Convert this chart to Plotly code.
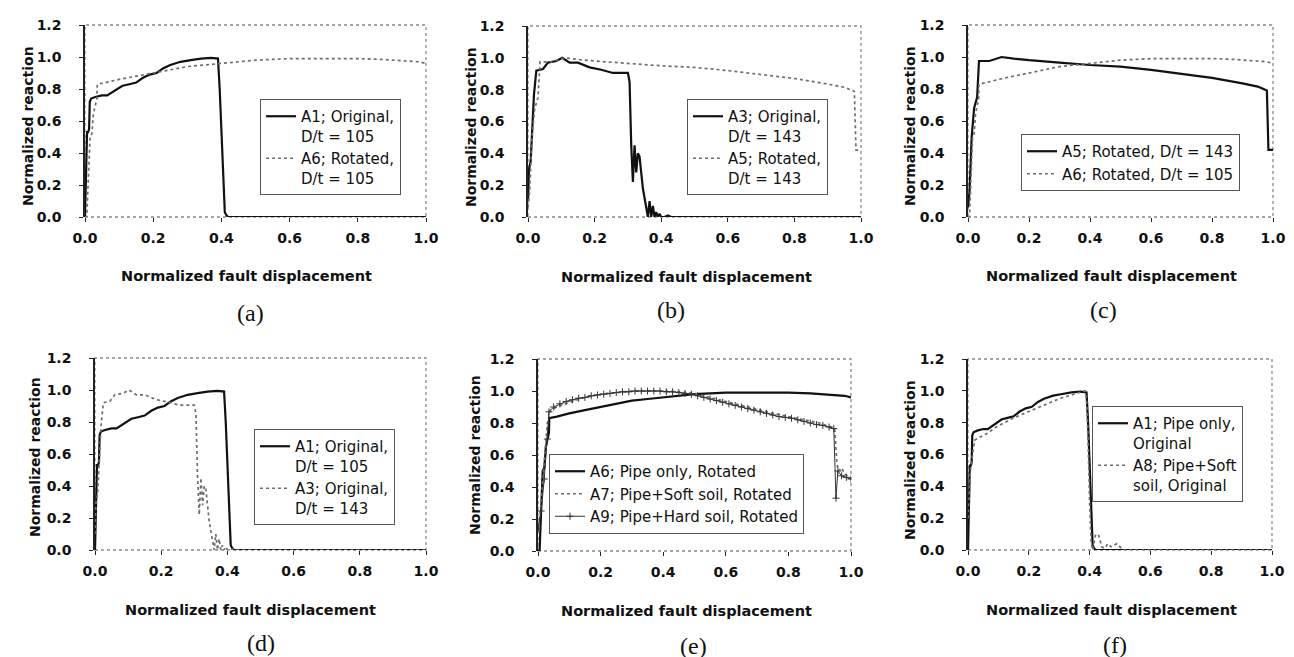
import plotly.graph_objects as go

# ---------------- data ----------------
A1_x = [0, 0.002, 0.004, 0.006, 0.009, 0.012, 0.014, 0.018, 0.03, 0.05, 0.065, 0.08, 0.095,
        0.11, 0.13, 0.15, 0.17, 0.19, 0.21, 0.23, 0.25, 0.28, 0.31, 0.34, 0.37, 0.39,
        0.395, 0.40, 0.405, 0.41, 0.415, 0.42, 0.5, 0.7, 1.0]
A1_y = [0.0, 0.25, 0.25, 0.53, 0.53, 0.55, 0.72, 0.74, 0.75, 0.76, 0.76, 0.78, 0.80,
        0.82, 0.83, 0.84, 0.87, 0.89, 0.90, 0.93, 0.95, 0.97, 0.98, 0.99, 0.995, 0.99,
        0.80, 0.55, 0.25, 0.03, 0.01, 0.0, 0.0, 0.0, 0.0]

A3_x = [0, 0.003, 0.008, 0.013, 0.018, 0.025, 0.045, 0.06, 0.085, 0.103, 0.125,
        0.15, 0.185, 0.22, 0.255, 0.30, 0.305, 0.31, 0.315, 0.32, 0.325,
        0.33, 0.335, 0.345, 0.355, 0.36, 0.365, 0.37, 0.375, 0.38, 0.385,
        0.39, 0.395, 0.40, 0.41, 0.42, 0.43, 0.5, 1.0]
A3_y = [0.1, 0.3, 0.35, 0.55, 0.77, 0.92, 0.93, 0.97, 0.98, 1.0, 0.97,
        0.97, 0.94, 0.925, 0.905, 0.905, 0.85, 0.45, 0.22, 0.45, 0.28,
        0.40, 0.38, 0.18, 0.06, 0.0, 0.1, 0.0, 0.07, 0.0, 0.03,
        0.0, 0.02, 0.0, 0.0, 0.01, 0.0, 0.0, 0.0]

A5_x = [0, 0.005, 0.012, 0.02, 0.03, 0.036, 0.07, 0.11, 0.15, 0.2, 0.3, 0.4, 0.5,
        0.6, 0.7, 0.8, 0.9, 0.95, 0.98, 0.985, 1.0]
A5_y = [0.06, 0.16, 0.5, 0.68, 0.75, 0.975, 0.975, 1.0, 0.99, 0.98, 0.965, 0.95, 0.94,
        0.92, 0.895, 0.87, 0.835, 0.815, 0.79, 0.42, 0.42]

A6_x = [0, 0.005, 0.01, 0.015, 0.02, 0.025, 0.035, 0.036, 0.06, 0.1, 0.15, 0.2, 0.25,
        0.3, 0.35, 0.4, 0.45, 0.5, 0.55, 0.6, 0.7, 0.8, 0.87, 0.9, 0.95, 0.98, 1.0]
A6_y = [0.0, 0.0, 0.25, 0.5, 0.52, 0.65, 0.74, 0.83, 0.84, 0.86, 0.88, 0.90, 0.92,
        0.94, 0.95, 0.96, 0.97, 0.98, 0.985, 0.99, 0.99, 0.99, 0.985, 0.98, 0.975, 0.97, 0.96]

A7_x = [0, 0.01, 0.02, 0.03, 0.04, 0.06, 0.1, 0.15, 0.2, 0.25, 0.3, 0.35, 0.4, 0.45,
        0.5, 0.55, 0.6, 0.65, 0.7, 0.75, 0.8, 0.85, 0.9, 0.94, 0.948, 0.955, 0.96,
        0.97, 0.98, 0.99, 1.0]
A7_y = [0.12, 0.3, 0.55, 0.8, 0.88, 0.9, 0.93, 0.96, 0.98, 0.99, 1.0, 1.0, 1.0, 0.995,
        0.985, 0.96, 0.935, 0.91, 0.885, 0.86, 0.84, 0.82, 0.80, 0.77, 0.76, 0.55, 0.5,
        0.52, 0.48, 0.47, 0.46]

A9_x = [0.0, 0.01, 0.02, 0.03, 0.035,
        0.05, 0.07, 0.09, 0.11, 0.13, 0.15, 0.17, 0.19, 0.21, 0.23,
        0.25, 0.27, 0.29, 0.31, 0.33, 0.35, 0.37, 0.39, 0.41, 0.43,
        0.45, 0.47, 0.49, 0.51, 0.53, 0.55, 0.57, 0.59, 0.61, 0.63,
        0.65, 0.67, 0.69, 0.71, 0.73, 0.75, 0.77, 0.79, 0.81, 0.83,
        0.85, 0.87, 0.89, 0.91, 0.93,
        0.945, 0.952, 0.958, 0.97, 0.985, 1.0]
A9_y = [0.14, 0.25, 0.45, 0.7, 0.87,
        0.9, 0.92, 0.935, 0.945, 0.955, 0.96, 0.97, 0.975, 0.98, 0.985,
        0.99, 0.995, 0.995, 1.0, 1.0, 1.0, 1.0, 1.0, 0.995, 0.995,
        0.99, 0.985, 0.98, 0.97, 0.96, 0.95, 0.94, 0.93, 0.92, 0.91,
        0.9, 0.89, 0.88, 0.87, 0.86, 0.85, 0.84, 0.835, 0.83, 0.82,
        0.81, 0.80, 0.79, 0.785, 0.775,
        0.765, 0.33, 0.5, 0.47, 0.46, 0.45]

A8_x = [0, 0.004, 0.008, 0.015, 0.022, 0.04, 0.066, 0.09, 0.11, 0.15, 0.2, 0.25, 0.3,
        0.35, 0.385, 0.39, 0.395, 0.40, 0.405, 0.41, 0.415, 0.42, 0.43, 0.44, 0.45,
        0.46, 0.47, 0.48, 0.49, 0.50, 0.51, 0.52, 0.6, 1.0]
A8_y = [0.2, 0.4, 0.5, 0.6, 0.69, 0.71, 0.735, 0.77, 0.79, 0.83, 0.87, 0.91, 0.95,
        0.98, 1.0, 0.95, 0.7, 0.3, 0.05, 0.0, 0.06, 0.1, 0.09, 0.02, 0.01,
        0.04, 0.02, 0.03, 0.04, 0.02, 0.0, 0.0, 0.0, 0.0]

x_ticks = [0.0, 0.2, 0.4, 0.6, 0.8, 1.0]
y_ticks = [0.0, 0.2, 0.4, 0.6, 0.8, 1.0, 1.2]
x_title = "Normalized fault displacement"
y_title = "Normalized reaction"
captions = ["(a)", "(b)", "(c)", "(d)", "(e)", "(f)"]

# ---------------- styles / layout ----------------
W, H = 1294, 657
SOLID = dict(mode="lines", line=dict(color="#111111", width=2.2))
DOTTED = dict(mode="lines", line=dict(color="#6e6e6e", width=1.7, dash="dot"))
CROSS = dict(mode="lines+markers", line=dict(color="#333333", width=1),
             marker=dict(symbol="cross-thin-open", size=5, line=dict(color="#333333", width=1)))

panels = [
    [(A1_x, A1_y, "A1; Original,<br>D/t = 105", SOLID),
     (A6_x, A6_y, "A6; Rotated,<br>D/t = 105", DOTTED)],
    [(A3_x, A3_y, "A3; Original,<br>D/t = 143", SOLID),
     (A5_x, A5_y, "A5; Rotated,<br>D/t = 143", DOTTED)],
    [(A5_x, A5_y, "A5; Rotated, D/t = 143", SOLID),
     (A6_x, A6_y, "A6; Rotated, D/t = 105", DOTTED)],
    [(A1_x, A1_y, "A1; Original,<br>D/t = 105", SOLID),
     (A3_x, A3_y, "A3; Original,<br>D/t = 143", DOTTED)],
    [(A6_x, A6_y, "A6; Pipe only, Rotated", SOLID),
     (A7_x, A7_y, "A7; Pipe+Soft soil, Rotated", DOTTED),
     (A9_x, A9_y, "A9; Pipe+Hard soil, Rotated", CROSS)],
    [(A1_x, A1_y, "A1; Pipe only,<br>Original", SOLID),
     (A8_x, A8_y, "A8; Pipe+Soft<br>soil, Original", DOTTED)],
]

# plot areas in pixels: (left, right, top, bottom)
boxes = [(77, 418, 17, 209), (520, 853, 18, 209), (960, 1265, 17, 209),
         (87, 418, 350, 542), (530, 843, 351, 543), (960, 1264, 351, 542)]
legend_pos = [(252, 91), (679, 91), (1013, 126), (246, 421), (541, 446), (1084, 398)]
xtitle_pos = [(238, 268), (678, 269), (1103, 268), (243, 602), (678, 603), (1103, 602)]
ytitle_pos = [(20, 118), (463, 119), (902, 118), (27, 449), (467, 447), (902, 452)]
caption_pos = [(242, 305), (663, 302), (1095, 302), (253, 635), (685, 638), (1107, 637)]

def px(x):
    return x / W

def py(y):
    return 1 - y / H

TICKFONT = dict(family="DejaVu Sans", size=14, color="#111111", weight="bold")

fig = go.Figure()
layout = dict(width=W, height=H, margin=dict(l=0, r=0, t=0, b=0, autoexpand=False),
              paper_bgcolor="white", plot_bgcolor="white",
              font=dict(family="DejaVu Sans", color="#111111"),
              showlegend=True)
annotations = []
shapes = []

for i, series in enumerate(panels):
    n = "" if i == 0 else str(i + 1)
    xa, ya = "x" + n, "y" + n
    lg = "legend" + n
    for (xs, ys, name, style) in series:
        fig.add_trace(go.Scatter(x=xs, y=ys, name=name, xaxis=xa, yaxis=ya,
                                 legend=lg, showlegend=True, **style))
    l, r, t, b = boxes[i]
    layout["xaxis" + n] = dict(domain=[px(l), px(r)], anchor=ya, range=[0, 1.0],
                               tickvals=x_ticks, tickformat=".1f", ticks="outside",
                               ticklen=4, tickcolor="#222222", tickwidth=1,
                               ticklabelstandoff=4, tickfont=TICKFONT,
                               automargin=False,
                               showline=False, showgrid=False, zeroline=False,
                               fixedrange=True)
    layout["yaxis" + n] = dict(domain=[py(b), py(t)], anchor=xa, range=[0, 1.2],
                               tickvals=y_ticks, tickformat=".1f", ticks="outside",
                               ticklen=4, tickcolor="#222222", tickwidth=1,
                               ticklabelstandoff=15, tickfont=TICKFONT,
                               automargin=False,
                               showline=True, linecolor="#222222", linewidth=1.5,
                               showgrid=False, zeroline=False, fixedrange=True)
    lx, ly = legend_pos[i]
    layout[lg] = dict(x=px(lx), y=py(ly), xanchor="left", yanchor="top",
                      xref="paper", yref="paper",
                      bgcolor="white", bordercolor="#555555", borderwidth=1,
                      font=dict(family="DejaVu Sans", size=15, color="#111111"),
                      itemwidth=30, valign="top", tracegroupgap=4)
    # dotted frame
    shapes.append(dict(type="rect", xref=xa + " domain", yref=ya + " domain",
                       x0=0, x1=1, y0=0, y1=1, layer="below",
                       line=dict(color="#8a8a8a", width=1.3, dash="dot")))
    tx, ty = xtitle_pos[i]
    annotations.append(dict(text=x_title, x=px(tx), y=py(ty), xref="paper", yref="paper",
                            showarrow=False, xanchor="center", yanchor="middle",
                            font=dict(family="DejaVu Sans", size=14.5, color="#111111",
                                      weight="bold")))
    tx, ty = ytitle_pos[i]
    annotations.append(dict(text=y_title, x=px(tx), y=py(ty), xref="paper", yref="paper",
                            showarrow=False, xanchor="center", yanchor="middle",
                            textangle=-90,
                            font=dict(family="DejaVu Sans", size=14, color="#111111",
                                      weight="bold")))
    tx, ty = caption_pos[i]
    annotations.append(dict(text=captions[i], x=px(tx), y=py(ty), xref="paper",
                            yref="paper", showarrow=False, xanchor="center",
                            yanchor="middle",
                            font=dict(family="Liberation Serif", size=24,
                                      color="#111111")))

layout["annotations"] = annotations
layout["shapes"] = shapes
fig.update_layout(**layout)
fig.write_html("out.html")
